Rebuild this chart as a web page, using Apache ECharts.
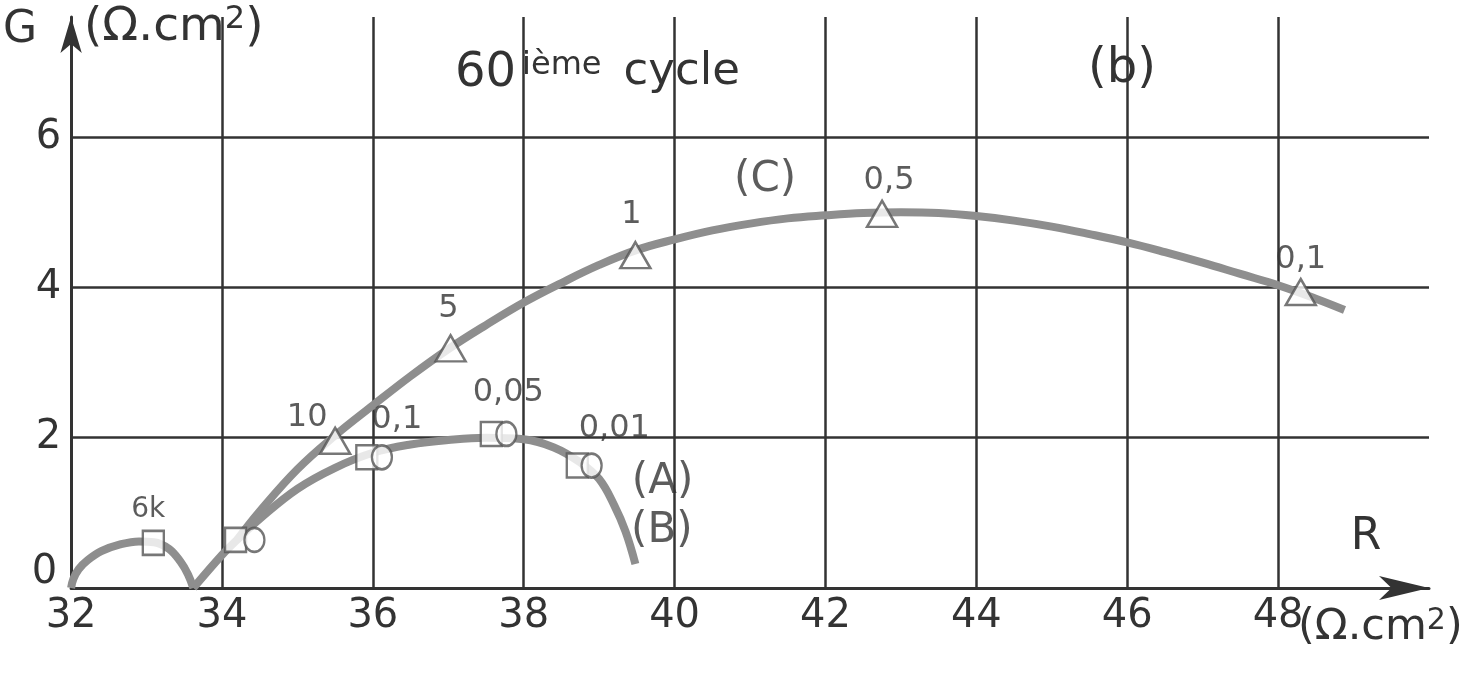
<!DOCTYPE html>
<html><head><meta charset="utf-8">
<script src="https://cdn.jsdelivr.net/npm/echarts@6/dist/echarts.min.js"></script>
<style>html,body{margin:0;padding:0;background:#fff}#c{width:1478px;height:674px}</style>
</head><body><div id="c"></div>
<script>
// ---- data ----
const xTicks = [32, 34, 36, 38, 40, 42, 44, 46, 48];
const yTicks = [0, 2, 4, 6];
// high-frequency arc
const arcHF = [[32,0],[32.03,0.12],[32.1,0.25],[32.22,0.37],[32.4,0.49],[32.65,0.58],[32.9,0.62],[33.1,0.61],[33.3,0.52],[33.45,0.35],[33.55,0.18],[33.62,0]];
// curve (A)/(B)
const curveAB = [[33.62,0],[34,0.44],[34.2,0.64],[34.5,0.92],[35,1.32],[35.5,1.6],[36,1.8],[36.5,1.91],[37,1.97],[37.5,2.0],[38,1.98],[38.4,1.87],[38.75,1.67],[39,1.45],[39.2,1.1],[39.35,0.75],[39.48,0.32]];
// curve (C)
const curveC = [[34.2,0.64],[34.5,1.02],[35,1.58],[35.5,2.03],[36,2.43],[36.5,2.82],[37,3.18],[37.5,3.5],[38,3.8],[38.5,4.06],[39,4.3],[39.5,4.5],[40,4.64],[40.5,4.76],[41,4.85],[41.5,4.92],[42,4.96],[42.5,4.99],[43,5.0],[43.5,4.99],[44,4.95],[44.5,4.89],[45,4.81],[45.5,4.71],[46,4.6],[46.5,4.47],[47,4.33],[47.5,4.18],[48,4.03],[48.5,3.85],[48.88,3.7]];
// markers
const squaresA = [[33.09,0.6],[34.18,0.64],[35.92,1.74],[37.57,2.05],[38.71,1.63]];
const squareLabels = ['6k', '', '0,1', '0,05', '0,01'];
const circlesB = [[34.43,0.64],[36.12,1.74],[37.77,2.05],[38.9,1.63]];
const trianglesC = [[35.5,1.96],[37.03,3.19],[39.48,4.43],[42.75,4.98],[48.3,3.94]];
const triangleLabels = ['10', '5', '1', '0,5', '0,1'];
// curve tags
const tagPoints = [[41.2,5.43],[39.84,1.41],[39.83,0.76]];
const tagNames = ['(C)', '(A)', '(B)'];

// ---- styling ----
const FONT = 'DejaVu Sans';
const INK = '#333';
const CURVE = '#8e8e8e';
const squareLabelOffsets = [[-5,0],[0,0],[30,-2],[17,-6],[37,-2]];
const triangleLabelOffsets = [[-28,13],[-2,-3],[-4,-4],[7,3],[0,4]];

const markerStyle = {color:'#fff', borderColor:'#555', borderWidth:2.5};
const labelStyle = {show:true, position:'top', distance:6, color:INK, fontFamily:FONT, fontSize:32};

const chart = echarts.init(document.getElementById('c'), null, {renderer:'canvas'});
chart.setOption({
  backgroundColor:'#fff',
  animation:false,
  title:[
    {text:'{a|60}{s|ième}{c|cycle}', left:455, top:50, padding:0,
     textStyle:{fontWeight:'normal', rich:{
       a:{fontFamily:FONT, fontSize:48, fontWeight:'normal', color:INK, lineHeight:72, verticalAlign:'top'},
       s:{fontFamily:FONT, fontSize:32, fontWeight:'normal', color:INK, lineHeight:10, verticalAlign:'top', padding:[0,0,0,6]},
       c:{fontFamily:FONT, fontSize:45, fontWeight:'normal', color:INK, lineHeight:71, verticalAlign:'top', padding:[0,0,0,22]}}}},
    {text:'(b)', left:1088, top:46, padding:0,
     textStyle:{fontFamily:FONT, fontSize:48, fontWeight:'normal', color:INK}}
  ],
  grid:{left:70, right:49, top:17, bottom:86, containLabel:false},
  xAxis:{
    type:'value', min:32, max:50, interval:2,
    name:'R', nameLocation:'end', nameGap:-63,
    nameTextStyle:{fontFamily:FONT, fontSize:44, color:INK, align:'center', verticalAlign:'bottom', padding:[0,0,28,0]},
    axisLine:{show:true, lineStyle:{color:INK, width:3}, symbol:['none','arrow'], symbolSize:[18,50]},
    axisTick:{show:false},
    axisLabel:{fontFamily:FONT, fontSize:40, color:INK, margin:9,
      formatter:v => xTicks.includes(v) ? String(v) : ''},
    splitLine:{show:true, showMinLine:false, showMaxLine:false, lineStyle:{color:INK, width:2.5}}
  },
  yAxis:{
    type:'value', min:0, max:7.6, interval:2,
    name:'G', nameLocation:'end', nameGap:8,
    nameTextStyle:{fontFamily:FONT, fontSize:44, color:INK, align:'right', verticalAlign:'top', padding:[0,34,0,0]},
    axisLine:{show:true, lineStyle:{color:INK, width:3}, symbol:['none','arrow'], symbolSize:[16,36]},
    axisTick:{show:false},
    axisLabel:{fontFamily:FONT, fontSize:40, color:INK, margin:10,
      formatter:v => v === 0 ? '{z|0}' : (yTicks.includes(v) ? String(v) : ''),
      rich:{z:{fontFamily:FONT, fontSize:40, color:INK, padding:[0,4,30,0]}}},
    splitLine:{show:true, showMinLine:false, showMaxLine:false, lineStyle:{color:INK, width:2.5}}
  },
  graphic:[
    {type:'text', left:84, top:4, style:{text:'(Ω.cm{s|2})', fill:INK, font:'47px "DejaVu Sans"',
      rich:{s:{fontSize:32, fontFamily:FONT, verticalAlign:'top', lineHeight:24}}}},
    {type:'text', left:1298, top:606, style:{text:'(Ω.cm{s|2})', fill:INK, font:'43px "DejaVu Sans"',
      rich:{s:{fontSize:30, fontFamily:FONT, verticalAlign:'top', lineHeight:22}}}}
  ],
  series:[
    {type:'line', data:arcHF, smooth:0.4, symbol:'none', lineStyle:{color:CURVE, width:8}, z:3},
    {type:'line', data:curveAB, smooth:0.4, symbol:'none', lineStyle:{color:CURVE, width:8}, z:3},
    {type:'line', data:curveC, smooth:0.4, symbol:'none', lineStyle:{color:CURVE, width:8}, z:3},
    {type:'scatter', symbol:'rect', symbolSize:[21,24], itemStyle:markerStyle, z:5,
     data:squaresA.map((p,i)=>({value:p, name:squareLabels[i],
       label:Object.assign({}, labelStyle, {offset:squareLabelOffsets[i], fontSize: i===0?28:32})})),
     label:Object.assign({}, labelStyle, {formatter:p=>p.name})},
    {type:'scatter', symbol:'circle', symbolSize:[20,24], itemStyle:markerStyle, z:6,
     data:circlesB},
    {type:'scatter', symbol:'triangle', symbolSize:[30,26], itemStyle:markerStyle, z:5,
     data:trianglesC.map((p,i)=>({value:p, name:triangleLabels[i],
       label:Object.assign({}, labelStyle, {offset:triangleLabelOffsets[i]})})),
     label:Object.assign({}, labelStyle, {formatter:p=>p.name})},
    {type:'scatter', symbol:'circle', symbolSize:1, itemStyle:{color:'rgba(0,0,0,0)'}, z:5, silent:true,
     data:tagPoints.map((p,i)=>({value:p, name:tagNames[i]})),
     label:{show:true, position:'inside', formatter:p=>p.name, color:INK, fontFamily:FONT, fontSize:42}}
  ]
});
</script></body></html>
